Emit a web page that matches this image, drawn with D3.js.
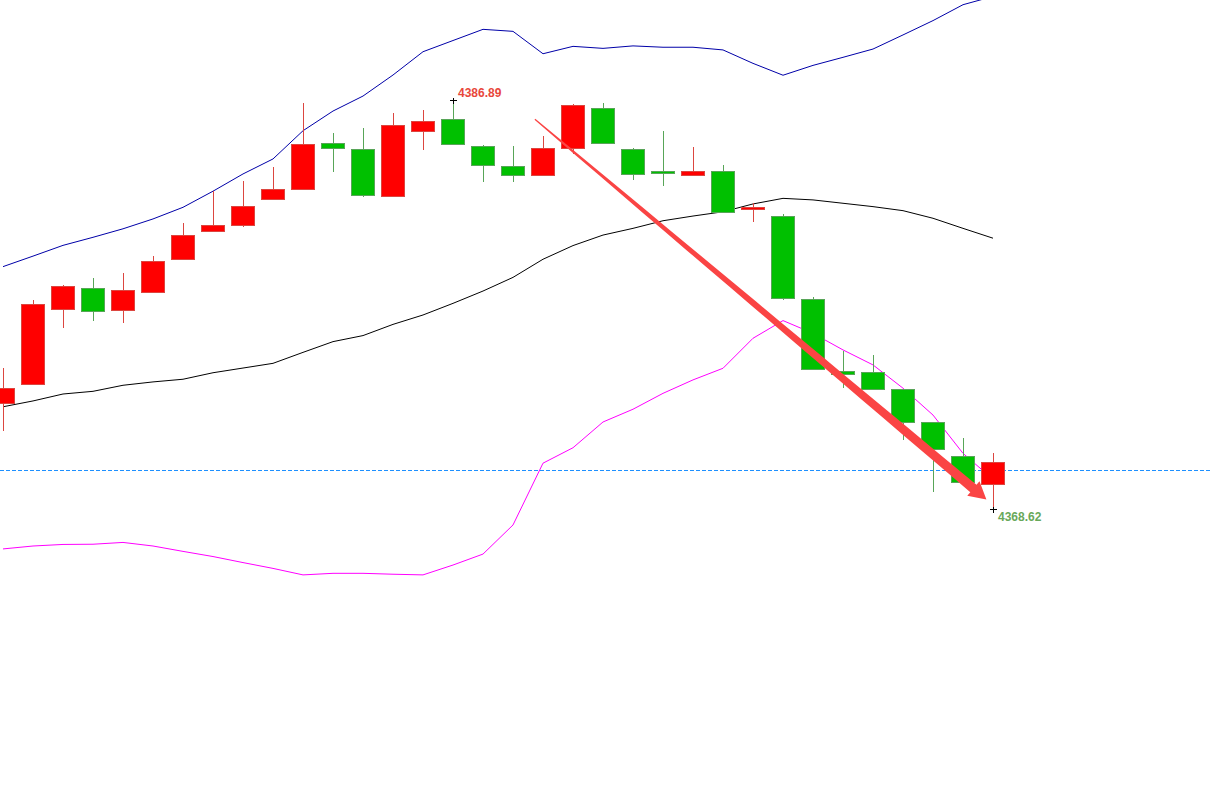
<!DOCTYPE html>
<html>
<head>
<meta charset="utf-8">
<script src="https://cdn.jsdelivr.net/npm/d3@7"></script>
<style>
  body { margin: 0; background: #fff; }
  svg { display: block; background: #fff; }
  .label { font-family: "Liberation Sans", Arial, sans-serif; font-size: 12px; font-weight: bold; }
</style>
</head>
<body>
<svg id="chart" width="1211" height="796"></svg>
<script>
// candle values, one per bar (left to right)
const opens  = [4373.36, 4374.20, 4377.55, 4378.49, 4377.51, 4378.31, 4379.79, 4381.02, 4381.31, 4382.47,
                4382.91, 4384.97, 4384.70, 4382.58, 4385.49, 4386.04, 4384.84, 4383.94, 4383.54, 4384.75,
                4386.53, 4384.70, 4383.73, 4383.54, 4383.73, 4382.02, 4381.72, 4377.97, 4374.78, 4374.71,
                4373.98, 4372.51, 4370.99, 4369.74];
const highs  = [4374.95, 4377.97, 4378.64, 4378.95, 4379.18, 4379.93, 4381.41, 4382.84, 4383.29, 4383.91,
                4386.77, 4385.44, 4385.65, 4386.32, 4386.46, 4386.89, 4384.88, 4384.85, 4385.30, 4386.72,
                4386.77, 4384.76, 4385.52, 4384.82, 4384.00, 4382.30, 4381.80, 4378.09, 4375.69, 4375.51,
                4373.98, 4372.51, 4371.81, 4371.12];
const lows   = [4372.13, 4374.16, 4376.73, 4377.04, 4376.96, 4378.31, 4379.79, 4381.02, 4381.24, 4382.47,
                4382.91, 4383.70, 4382.58, 4382.58, 4384.67, 4384.92, 4383.25, 4383.25, 4383.54, 4384.48,
                4384.97, 4383.33, 4383.06, 4383.54, 4381.89, 4381.47, 4377.97, 4374.87, 4374.05, 4373.98,
                4371.72, 4369.41, 4369.81, 4368.62];
const closes = [4374.03, 4377.78, 4378.58, 4377.47, 4378.40, 4379.70, 4380.86, 4381.31, 4382.16, 4382.91,
                4384.92, 4384.75, 4382.63, 4385.77, 4385.95, 4384.92, 4383.97, 4383.52, 4384.75, 4386.67,
                4384.97, 4383.58, 4383.63, 4383.73, 4381.89, 4382.12, 4378.05, 4374.87, 4374.65, 4373.98,
                4372.51, 4371.30, 4369.81, 4370.72];

// bollinger bands
const upperBand  = [4379.46, 4379.93, 4380.41, 4380.77, 4381.15, 4381.59, 4382.11, 4382.83, 4383.60, 4384.27,
                    4385.53, 4386.41, 4387.08, 4388.02, 4389.06, 4389.56, 4390.06, 4389.97, 4388.97, 4389.30,
                    4389.21, 4389.32, 4389.26, 4389.26, 4389.14, 4388.54, 4388.01, 4388.45, 4388.81, 4389.18,
                    4389.81, 4390.45, 4391.16, 4391.53];
const middleBand = [4373.20, 4373.46, 4373.77, 4373.89, 4374.16, 4374.31, 4374.43, 4374.72, 4374.93, 4375.14,
                    4375.63, 4376.11, 4376.38, 4376.88, 4377.30, 4377.82, 4378.37, 4378.98, 4379.79, 4380.40,
                    4380.87, 4381.17, 4381.51, 4381.72, 4381.91, 4382.26, 4382.51, 4382.44, 4382.29, 4382.14,
                    4381.96, 4381.62, 4381.17, 4380.73];
const lowerBand  = [4366.85, 4366.98, 4367.05, 4367.06, 4367.14, 4366.98, 4366.74, 4366.51, 4366.24, 4365.98,
                    4365.69, 4365.76, 4365.76, 4365.72, 4365.69, 4366.13, 4366.62, 4367.92, 4370.68, 4371.37,
                    4372.52, 4373.09, 4373.80, 4374.40, 4374.92, 4376.26, 4377.05, 4376.48, 4375.74, 4375.07,
                    4374.03, 4372.83, 4371.12, 4369.96];

const bidPrice = 4370.36;
const highMark = { index: 15, price: 4386.89, text: "4386.89" };
const lowMark  = { index: 33, price: 4368.62, text: "4368.62" };
const arrowFrom = { index: 17.73, price: 4386.04 };
const arrowTo   = { index: 32.78, price: 4369.06 };

const svg = d3.select("#chart");
const W = +svg.attr("width");

const x = d3.scaleLinear().domain([0, 33]).range([3, 993]);
const y = d3.scaleLinear().domain([4368.62, 4386.89]).range([509.3, 100.3]);

const red = "#ff0000", redEdge = "#dc4640";
const green = "#00c000", greenEdge = "#58a558";

// bands
const bandLine = d3.line().x((d, i) => x(i)).y(d => y(d));
svg.append("path").datum(upperBand).attr("d", bandLine)
  .attr("fill", "none").attr("stroke", "#0000a8").attr("stroke-width", 1);
svg.append("path").datum(middleBand).attr("d", bandLine)
  .attr("fill", "none").attr("stroke", "#000").attr("stroke-width", 1);
svg.append("path").datum(lowerBand).attr("d", bandLine)
  .attr("fill", "none").attr("stroke", "#ff00ff").attr("stroke-width", 1);

// bid line
svg.append("line")
  .attr("x1", 0).attr("x2", W)
  .attr("y1", Math.round(y(bidPrice)) + 0.5).attr("y2", Math.round(y(bidPrice)) + 0.5)
  .attr("stroke", "#1e90ff").attr("stroke-width", 1)
  .attr("stroke-dasharray", "4,2");

// candles
const candles = opens.map((o, i) => ({ i, o, h: highs[i], l: lows[i], c: closes[i], up: closes[i] >= o }));
const cg = svg.append("g").attr("shape-rendering", "crispEdges");

cg.selectAll("line.wick").data(candles).join("line")
  .attr("class", "wick")
  .attr("x1", d => Math.round(x(d.i)) + 0.5)
  .attr("x2", d => Math.round(x(d.i)) + 0.5)
  .attr("y1", d => y(d.h))
  .attr("y2", d => y(d.l))
  .attr("stroke", d => d.up ? redEdge : greenEdge);

cg.selectAll("rect.body").data(candles).join("rect")
  .attr("class", "body")
  .attr("x", d => Math.round(x(d.i)) - 11.5)
  .attr("width", 23)
  .attr("y", d => y(Math.max(d.o, d.c)))
  .attr("height", d => Math.max(1, y(Math.min(d.o, d.c)) - y(Math.max(d.o, d.c))))
  .attr("fill", d => d.up ? red : green)
  .attr("stroke", d => d.up ? redEdge : greenEdge);

// tapered arrow, widening towards the head
const ax0 = x(arrowFrom.index), ay0 = y(arrowFrom.price);
const ax1 = x(arrowTo.index), ay1 = y(arrowTo.price);
const len = Math.hypot(ax1 - ax0, ay1 - ay0);
const ux = (ax1 - ax0) / len, uy = (ay1 - ay0) / len;
const nx = -uy, ny = ux;
const headLen = 17, headHalf = 9.5, startHalf = 0.6, endHalf = 4.8;
const shaftLen = len - headLen;
const steps = d3.range(0, 1.0001, 0.05);
const halfAt = t => startHalf + (endHalf - startHalf) * Math.pow(t, 0.8);
const leftSide = steps.map(t => [ax0 + ux * shaftLen * t + nx * halfAt(t), ay0 + uy * shaftLen * t + ny * halfAt(t)]);
const rightSide = steps.map(t => [ax0 + ux * shaftLen * t - nx * halfAt(t), ay0 + uy * shaftLen * t - ny * halfAt(t)]).reverse();
const bx = ax1 - ux * headLen, by = ay1 - uy * headLen;
const arrowPts = leftSide.concat([
  [bx + nx * headHalf, by + ny * headHalf],
  [ax1, ay1],
  [bx - nx * headHalf, by - ny * headHalf]
], rightSide);
svg.append("polygon")
  .attr("points", arrowPts.map(p => p.join(",")).join(" "))
  .attr("fill", "#fa4444");

// high / low markers
[highMark, lowMark].forEach(m => {
  const mx = Math.round(x(m.index)) + 0.5, my = Math.round(y(m.price)) + 0.5;
  svg.append("line").attr("x1", mx - 3.5).attr("x2", mx + 3.5).attr("y1", my).attr("y2", my)
    .attr("stroke", "#000").attr("shape-rendering", "crispEdges");
  svg.append("line").attr("x1", mx).attr("x2", mx).attr("y1", my - 3).attr("y2", my + 3)
    .attr("stroke", "#000").attr("shape-rendering", "crispEdges");
});

svg.append("text").attr("class", "label")
  .attr("x", x(highMark.index) + 5).attr("y", y(highMark.price) - 3)
  .attr("fill", "#e8473b")
  .text(highMark.text);

svg.append("text").attr("class", "label")
  .attr("x", x(lowMark.index) + 5).attr("y", y(lowMark.price) + 12)
  .attr("fill", "#68a85a")
  .text(lowMark.text);
</script>
</body>
</html>
